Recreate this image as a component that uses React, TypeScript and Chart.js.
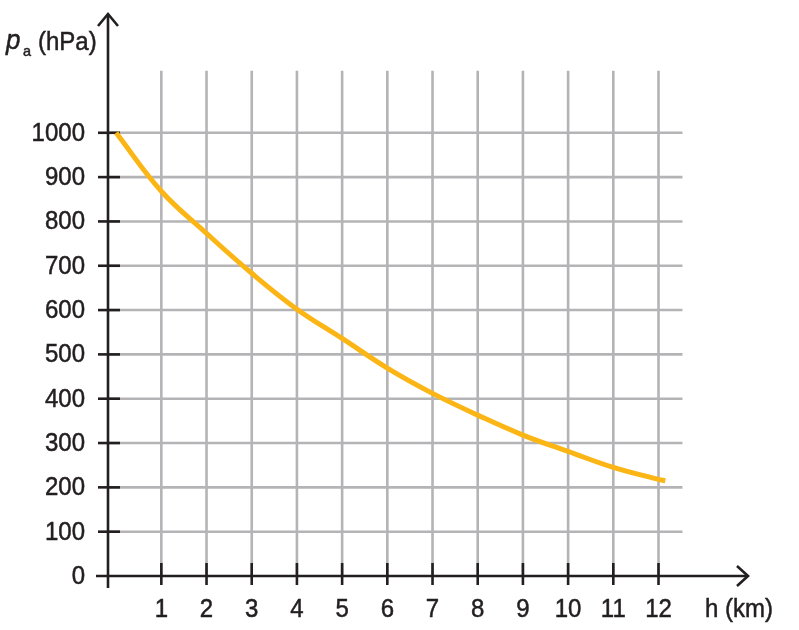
import React, { useEffect, useRef } from "react";
import { Chart, registerables } from "chart.js";

Chart.register(...registerables);

// Data
const heightsKm = [0, 1, 2, 3, 4, 5, 6, 7, 8, 9, 10, 11, 12, 12.15];
const pressuresHPa = [1000, 868, 773, 683, 602, 536, 469, 412, 363, 318, 281, 245, 218, 215];
const xTickValues = [1, 2, 3, 4, 5, 6, 7, 8, 9, 10, 11, 12];
const yTickValues = [0, 100, 200, 300, 400, 500, 600, 700, 800, 900, 1000];
const yAxisTitle = "(hPa)";
const xAxisTitle = "h (km)";

const AXIS_COLOR = "#231f20";
const GRID_COLOR = "#b4b4b6";
const CURVE_COLOR = "#fbb515";
const FONT_FAMILY = '"Liberation Sans", Arial, Helvetica, sans-serif';
const CONDENSE = 0.96;

function drawText(
  ctx: CanvasRenderingContext2D,
  text: string,
  x: number,
  y: number,
  align: "left" | "right" | "center",
  font: string,
  baseline: CanvasTextBaseline = "middle"
) {
  ctx.save();
  ctx.font = font;
  ctx.textBaseline = baseline;
  ctx.textAlign = align;
  ctx.translate(x, y);
  ctx.scale(CONDENSE, 1);
  ctx.fillStyle = AXIS_COLOR;
  ctx.strokeStyle = AXIS_COLOR;
  ctx.lineWidth = 0.5;
  ctx.fillText(text, 0, 0);
  ctx.strokeText(text, 0, 0);
  ctx.restore();
}

const axesPlugin = {
  id: "customAxes",
  beforeDatasetsDraw(chart: any) {
    const ctx: CanvasRenderingContext2D = chart.ctx;
    const xs = chart.scales.x;
    const ys = chart.scales.y;
    const x0 = xs.getPixelForValue(xs.min);
    const y0 = ys.getPixelForValue(0);
    const gridTop = ys.getPixelForValue(1140);
    const gridRight = xs.getPixelForValue(12.53);

    ctx.save();
    // grid
    ctx.strokeStyle = GRID_COLOR;
    ctx.lineWidth = 2.6;
    for (const v of xTickValues) {
      const px = xs.getPixelForValue(v);
      ctx.beginPath();
      ctx.moveTo(px, y0);
      ctx.lineTo(px, gridTop);
      ctx.stroke();
    }
    for (const v of yTickValues) {
      if (v === 0) continue;
      const py = ys.getPixelForValue(v);
      ctx.beginPath();
      ctx.moveTo(x0, py);
      ctx.lineTo(gridRight, py);
      ctx.stroke();
    }

    // axes
    ctx.strokeStyle = AXIS_COLOR;
    ctx.lineWidth = 2.6;
    const yTop = chart.chartArea.top;
    const xRight = chart.chartArea.right;
    ctx.beginPath();
    ctx.moveTo(x0, y0 + 12);
    ctx.lineTo(x0, yTop);
    ctx.stroke();
    ctx.beginPath();
    ctx.moveTo(x0 - 12, y0);
    ctx.lineTo(xRight, y0);
    ctx.stroke();

    // arrows
    ctx.beginPath();
    ctx.moveTo(x0 - 10, yTop + 12);
    ctx.lineTo(x0, yTop);
    ctx.lineTo(x0 + 10, yTop + 12);
    ctx.stroke();
    ctx.beginPath();
    ctx.moveTo(xRight - 11, y0 - 10);
    ctx.lineTo(xRight, y0);
    ctx.lineTo(xRight - 11, y0 + 10);
    ctx.stroke();

    // ticks
    for (const v of yTickValues) {
      if (v === 0) continue;
      const py = ys.getPixelForValue(v);
      ctx.beginPath();
      ctx.moveTo(x0 - 10, py);
      ctx.lineTo(x0 + 12, py);
      ctx.stroke();
    }
    for (const v of xTickValues) {
      const px = xs.getPixelForValue(v);
      ctx.beginPath();
      ctx.moveTo(px, y0 - 13);
      ctx.lineTo(px, y0 + 9);
      ctx.stroke();
    }
    ctx.restore();
  },
  afterDatasetsDraw(chart: any) {
    const ctx: CanvasRenderingContext2D = chart.ctx;
    const xs = chart.scales.x;
    const ys = chart.scales.y;
    const x0 = xs.getPixelForValue(xs.min);
    const y0 = ys.getPixelForValue(0);
    const font = `25px ${FONT_FAMILY}`;
    for (const v of yTickValues) {
      drawText(ctx, String(v), x0 - 23, ys.getPixelForValue(v) + 1, "right", font);
    }
    for (const v of xTickValues) {
      drawText(ctx, String(v), xs.getPixelForValue(v), y0 + 34, "center", font);
    }
    drawText(ctx, xAxisTitle, 705, y0 + 34, "left", font);
    drawText(ctx, "p", 6, 49, "left", `italic 27px ${FONT_FAMILY}`, "alphabetic");
    drawText(ctx, "a", 23, 56, "left", `15px ${FONT_FAMILY}`, "alphabetic");
    drawText(ctx, yAxisTitle, 38, 50, "left", font, "alphabetic");
  },
};

export default function App() {
  const canvasRef = useRef<HTMLCanvasElement | null>(null);

  useEffect(() => {
    if (!canvasRef.current) return;
    const chart = new Chart(canvasRef.current, {
      type: "line",
      data: {
        datasets: [
          {
            data: heightsKm.map((h, i) => ({ x: h, y: pressuresHPa[i] })),
            borderColor: CURVE_COLOR,
            borderWidth: 5,
            pointRadius: 0,
            tension: 0.4,
            fill: false,
            clip: false as any,
          },
        ],
      },
      options: {
        animation: false,
        responsive: false,
        maintainAspectRatio: false,
        layout: { padding: { left: 108, right: 51, top: 14, bottom: 54 } },
        plugins: { legend: { display: false }, tooltip: { enabled: false } },
        scales: {
          x: { type: "linear", min: -0.18, max: 13.98, display: false },
          y: { type: "linear", min: 0, max: 1268, display: false },
        },
      },
      plugins: [axesPlugin],
    });
    return () => chart.destroy();
  }, []);

  return (
    <div style={{ position: "absolute", left: 0, top: 0, width: 799, height: 630, background: "#fff" }}>
      <canvas ref={canvasRef} width={799} height={630} />
    </div>
  );
}
